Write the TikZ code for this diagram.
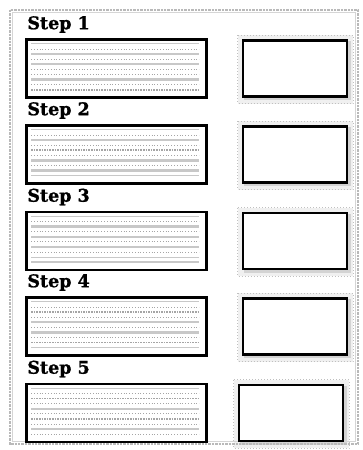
\documentclass[tikz,border=0pt]{standalone}
\usepackage{fontspec}
\newfontfamily\stepfont[BoldFeatures={FakeBold=1.2}]{DejaVu Serif}
\usetikzlibrary{positioning,backgrounds}
\definecolor{rulegrey}{RGB}{200,200,200}
\definecolor{dotgrey}{RGB}{165,165,165}
\definecolor{halogrey}{RGB}{240,240,240}
\definecolor{framegrey}{RGB}{185,185,185}

\begin{document}
\begin{tikzpicture}[x=1pt,y=-1pt,
  node distance=34pt,
  steplabel/.style={font=\stepfont\bfseries\fontsize{17.5}{19}\selectfont, inner sep=0pt, anchor=base west},
  textbox/.style={draw, line width=2.6pt, minimum width=180pt, minimum height=58pt, inner sep=0pt},
  answerbox/.style={draw, line width=2.2pt, fill=white, minimum width=104pt, minimum height=56pt, inner sep=0pt},
  halo/.style={draw=dotgrey!70, dotted, line width=1pt, fill=halogrey},
  haloshade/.style={fill=rulegrey!80},
  ruleline/.style={draw=rulegrey, line width=1pt},
  dotline/.style={draw=dotgrey, dotted, line width=0.8pt},
  heavyline/.style={draw=rulegrey, line width=2.4pt},
  wavyline/.style={draw=dotgrey, densely dotted, line width=1.6pt}
]

\useasboundingbox (0,0) rectangle (363,450);

% page frame
\draw[draw=framegrey, line width=2.4pt, densely dotted] (10,10) rectangle (358,444);
\draw[draw=framegrey!60, line width=0.6pt] (12.5,12.5) rectangle (355.5,441.5);

% left column: text boxes
\node[textbox] (box1) at (116.5,68.5) {};
\node[textbox] (box2) at (116.5,154.5) {};
\node[textbox] (box3) at (116.5,241) {};
\node[textbox] (box4) at (116.5,326.5) {};
\node[textbox] (box5) at (116.5,413) {};

% right column: answer boxes
\node[answerbox, right=of box1] (ans1) {};
\node[answerbox, right=of box2] (ans2) {};
\node[answerbox, right=of box3] (ans3) {};
\node[answerbox, right=of box4] (ans4) {};
\node[answerbox, right=of box5, xshift=-4pt] (ans5) {};

% headings
\node[steplabel] (lab1) at ([xshift=2pt,yshift=9pt]box1.north west) {Step 1};
\node[steplabel] (lab2) at ([xshift=2pt,yshift=9pt]box2.north west) {Step 2};
\node[steplabel] (lab3) at ([xshift=2pt,yshift=9pt]box3.north west) {Step 3};
\node[steplabel] (lab4) at ([xshift=2pt,yshift=9pt]box4.north west) {Step 4};
\node[steplabel] (lab5) at ([xshift=2pt,yshift=9pt]box5.north west) {Step 5};

% shadows round the answer boxes
\begin{scope}[on background layer]
  \foreach \a in {ans1,ans2,ans3,ans4,ans5} {
    \draw[halo] ([shift={(-4pt,4pt)}]\a.north west) rectangle ([shift={(5pt,-6pt)}]\a.south east);
    \fill[haloshade] ([shift={(2pt,-2pt)}]\a.north west) rectangle ([shift={(2.5pt,-2.5pt)}]\a.south east);
  }
\end{scope}

% grey text lines inside the text boxes
\foreach \b/\pat in {
  box1/{ruleline,dotline,heavyline,dotline,heavyline,dotline,dotline,heavyline,dotline,wavyline},
  box2/{ruleline,dotline,heavyline,dotline,wavyline,dotline,heavyline,dotline,heavyline,ruleline},
  box3/{ruleline,dotline,heavyline,dotline,heavyline,dotline,heavyline,dotline,ruleline,heavyline},
  box4/{ruleline,dotline,wavyline,dotline,heavyline,dotline,heavyline,dotline,wavyline,ruleline},
  box5/{ruleline,dotline,wavyline,dotline,heavyline,dotline,wavyline,dotline,heavyline,dotline}} {
  \foreach \s [count=\k] in \pat {
    \draw[\s] ([xshift=6pt,yshift={-(0.5+5.1*\k)*1pt}]\b.north west) -- ++(168,0);
  }
}

\end{tikzpicture}
\end{document}
